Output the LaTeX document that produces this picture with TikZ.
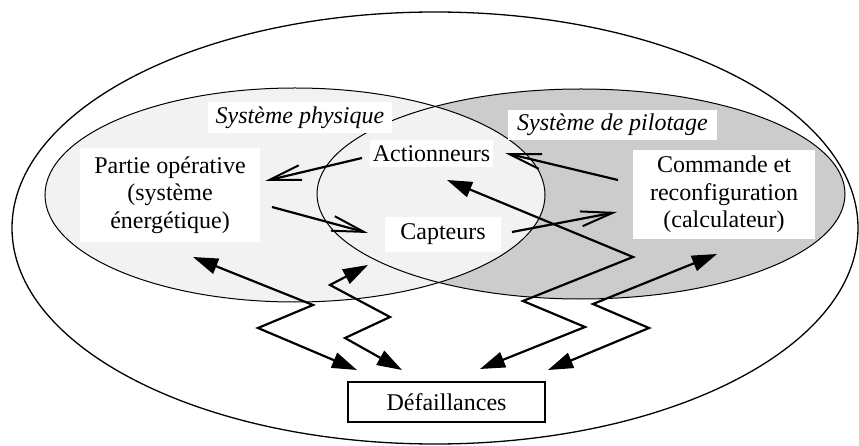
\documentclass[tikz,border=0pt]{standalone}
\usepackage{fontspec}
\setmainfont{Liberation Serif}
\usetikzlibrary{arrows.meta}
\definecolor{physfill}{HTML}{F2F2F2}
\definecolor{pilofill}{HTML}{CCCCCC}
\begin{document}
\begin{tikzpicture}[x=1pt,y=-1pt,
  font=\fontsize{24}{27.5}\selectfont,
  lbl/.style={fill=white, inner sep=0pt, align=center},
  openarrow/.style={line width=2.2pt, -{Straight Barb[length=32pt,width=15pt,line width=2pt]}},
  zig/.style={line width=2.2pt, miter limit=10, {Triangle[length=25pt,width=16pt]}-{Triangle[length=25pt,width=16pt]}},
  outline/.style={line width=1pt}]
\useasboundingbox (0,0) rectangle (859,446);
% ellipses
\draw[line width=1.3pt] (435,228) ellipse [x radius=423pt, y radius=216pt];
\fill[pilofill] (581,194) ellipse [x radius=264pt, y radius=105pt];
\fill[physfill] (295,195) ellipse [x radius=250pt, y radius=107pt];
\draw[outline] (581,194) ellipse [x radius=264pt, y radius=105pt];
\draw[outline] (295,195) ellipse [x radius=250pt, y radius=107pt];
% labels
\node[lbl, minimum width=184pt, minimum height=31pt] (phys) at (300,117.5) {\itshape Système physique};
\node[lbl, minimum width=209pt, minimum height=30pt] (pilot) at (612.5,125) {\itshape Système de pilotage};
\node[lbl, minimum width=123pt, minimum height=27pt] (act) at (431.5,153.5) {Actionneurs};
\node[lbl, minimum width=116pt, minimum height=35pt] (capt) at (443,234.5) {Capteurs};
\node[lbl, minimum width=180pt, minimum height=94pt] (partie) at (170,195) {Partie opérative\\(système\\énergétique)};
\node[lbl, minimum width=182pt, minimum height=89pt] (cmd) at (724,194.5) {Commande et\\reconfiguration\\(calculateur)};
\node[draw, line width=2pt, fill=white, inner sep=0pt, minimum width=197pt, minimum height=40pt] (def) at (446.5,402) {Défaillances};
% open arrows endpoints
\coordinate (a1s) at (362,158); \coordinate (a1e) at (265,181);
\coordinate (a2s) at (272,207); \coordinate (a2e) at (368,233);
\coordinate (a3s) at (618,180); \coordinate (a3e) at (505,153);
\coordinate (a4s) at (512,232); \coordinate (a4e) at (617,212);
\draw[openarrow] (a1s) -- (a1e);
\draw[openarrow] (a2s) -- (a2e);
\draw[openarrow] (a3s) -- (a3e);
\draw[openarrow] (a4s) -- (a4e);
% zigzag failure links
\coordinate (z1a) at (193,257); \coordinate (z1b) at (313,305); \coordinate (z1c) at (258,328); \coordinate (z1d) at (357,370);
\coordinate (z2a) at (368,265); \coordinate (z2b) at (330,285); \coordinate (z2c) at (390,317); \coordinate (z2d) at (345,338); \coordinate (z2e) at (402,370);
\coordinate (z3a) at (447,180); \coordinate (z3b) at (633,257); \coordinate (z3c) at (523,301); \coordinate (z3d) at (585,327); \coordinate (z3e) at (480,369);
\coordinate (z4a) at (717,254); \coordinate (z4b) at (593,304); \coordinate (z4c) at (649,328); \coordinate (z4d) at (548,370);
\draw[zig] (z1a) -- (z1b) -- (z1c) -- (z1d);
\draw[zig] (z2a) -- (z2b) -- (z2c) -- (z2d) -- (z2e);
\draw[zig] (z3a) -- (z3b) -- (z3c) -- (z3d) -- (z3e);
\draw[zig] (z4a) -- (z4b) -- (z4c) -- (z4d);
\end{tikzpicture}
\end{document}
